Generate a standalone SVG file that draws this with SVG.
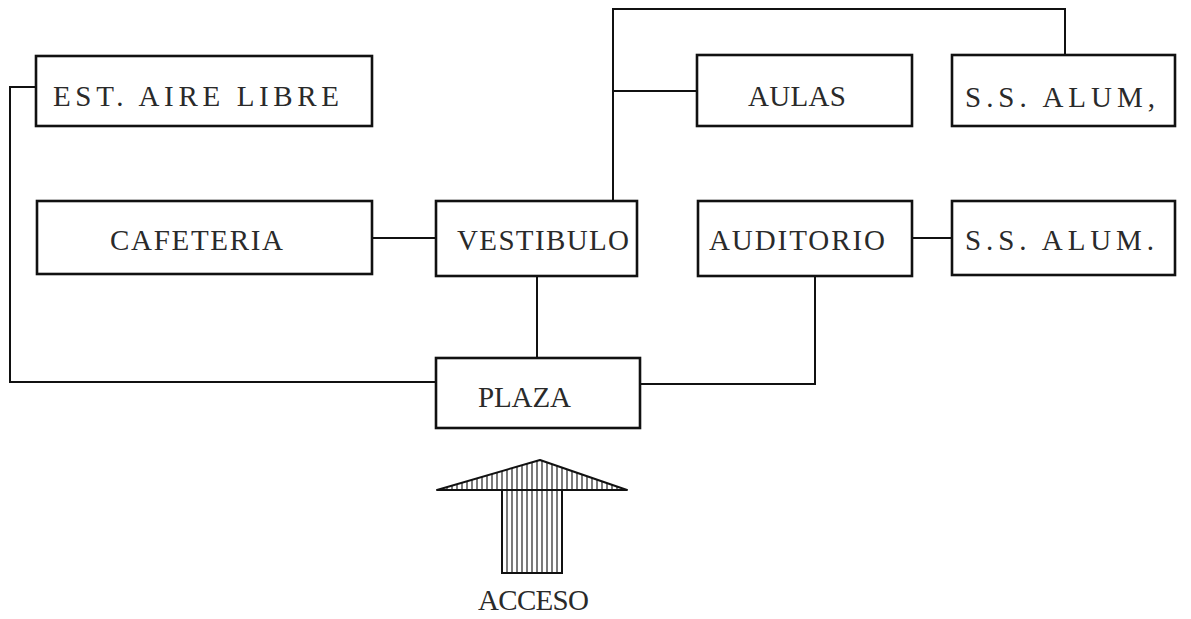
<svg xmlns="http://www.w3.org/2000/svg" width="1191" height="619" viewBox="0 0 1191 619">
<style>
.box{fill:#fff;stroke:#111;stroke-width:2.6}
.lbl{font-family:"Liberation Serif",serif;font-size:29px;fill:#2a2a2a}
.con{fill:none;stroke:#111;stroke-width:2}
</style>
<defs>
<pattern id="hatch" width="5" height="10" patternUnits="userSpaceOnUse">
<rect width="5" height="10" fill="#fff"/>
<line x1="2" y1="0" x2="2" y2="10" stroke="#222" stroke-width="1.2"/>
</pattern>
</defs>
<rect width="1191" height="619" fill="#fff"/>
<g id="connectors">
<polyline class="con" points="36,87 10,87 10,382 436,382"/>
<polyline class="con" points="613,201 613,9 1065,9 1065,55"/>
<line class="con" x1="613" y1="91" x2="697" y2="91"/>
<line class="con" x1="372" y1="238" x2="436" y2="238"/>
<line class="con" x1="912" y1="238" x2="952" y2="238"/>
<line class="con" x1="537" y1="276" x2="537" y2="358"/>
<polyline class="con" points="815,276 815,384 640,384"/>
</g>
<g id="est-aire-libre"><rect class="box" x="36" y="56" width="336" height="70"/><text class="lbl" x="53" y="106" textLength="286" lengthAdjust="spacing">EST. AIRE LIBRE</text></g>
<g id="aulas"><rect class="box" x="697" y="55" width="215" height="71"/><text class="lbl" x="748" y="106" textLength="98" lengthAdjust="spacing">AULAS</text></g>
<g id="ss-alum-1"><rect class="box" x="952" y="55" width="223" height="71"/><text class="lbl" x="965" y="107" textLength="190" lengthAdjust="spacing">S.S. ALUM,</text></g>
<g id="cafeteria"><rect class="box" x="37" y="201" width="335" height="73"/><text class="lbl" x="110" y="250" textLength="173" lengthAdjust="spacing">CAFETERIA</text></g>
<g id="vestibulo"><rect class="box" x="436" y="201" width="201" height="75"/><text class="lbl" x="457" y="250" textLength="172" lengthAdjust="spacing">VESTIBULO</text></g>
<g id="auditorio"><rect class="box" x="698" y="201" width="214" height="75"/><text class="lbl" x="709" y="250" textLength="176" lengthAdjust="spacing">AUDITORIO</text></g>
<g id="ss-alum-2"><rect class="box" x="952" y="201" width="223" height="74"/><text class="lbl" x="965" y="250" textLength="189" lengthAdjust="spacing">S.S. ALUM.</text></g>
<g id="plaza"><rect class="box" x="436" y="358" width="204" height="70"/><text class="lbl" x="478" y="407" textLength="93" lengthAdjust="spacing">PLAZA</text></g>
<g id="acceso">
<polygon points="437,490 540,460 627,490" fill="url(#hatch)" stroke="#111" stroke-width="2" stroke-linejoin="round"/>
<rect x="502" y="490" width="60" height="83" fill="url(#hatch)" stroke="#111" stroke-width="2"/>
<text class="lbl" x="478" y="610" textLength="111" lengthAdjust="spacing">ACCESO</text>
</g>
</svg>
